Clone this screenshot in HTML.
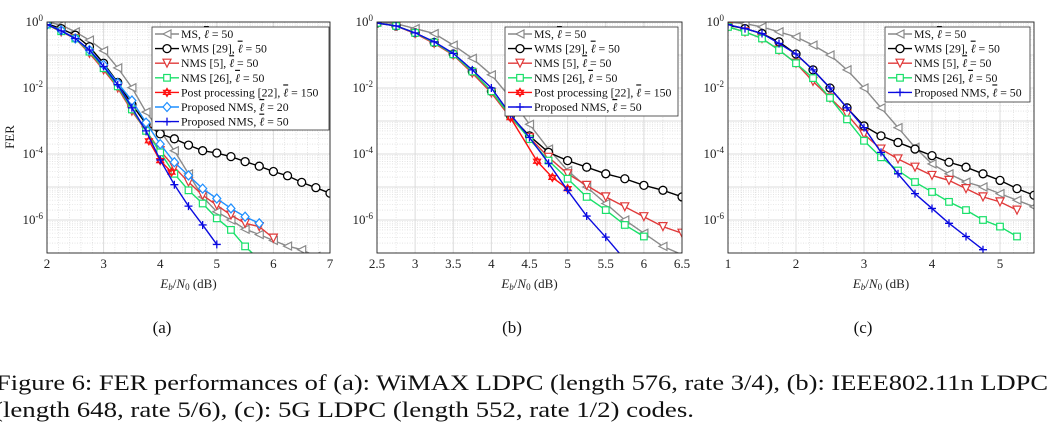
<!DOCTYPE html>
<html><head><meta charset="utf-8"><style>
html,body{margin:0;padding:0;background:#fff;}
svg{display:block;font-family:"Liberation Serif",serif;}
</style></head><body>
<svg id="fig" width="1056" height="435" viewBox="0 0 1056 435" xmlns="http://www.w3.org/2000/svg"></svg>
<script>
// ---- data (log10 FER) ----
const xA = [2,2.25,2.5,2.75,3,3.25,3.5,3.75,4,4.25,4.5,4.75,5,5.25,5.5,5.75,6,6.25,6.5,6.75,7];
const aMS   = [0,-0.09,-0.3,-0.55,-0.87,-1.39,-1.99,-2.73,-3.3,-3.9,-4.6,-5.3,-5.75,-6.0,-6.28,-6.44,-6.62,-6.79,-6.9,-7.1];
const aWMS  = [-0.05,-0.2,-0.4,-0.75,-1.25,-1.83,-2.5,-3.09,-3.39,-3.54,-3.73,-3.9,-3.97,-4.08,-4.23,-4.37,-4.53,-4.66,-4.86,-5.02,-5.19];
const aNMS5 = [-0.08,-0.3,-0.5,-0.95,-1.45,-2.0,-2.7,-3.3,-3.9,-4.4,-4.85,-5.25,-5.55,-5.85,-6.1,-6.2,-6.55];
const aNMS26= [-0.08,-0.28,-0.5,-0.9,-1.4,-1.95,-2.65,-3.3,-3.95,-4.6,-5.1,-5.5,-5.95,-6.3,-6.8,-7.2];
const aPPx  = [3.8,4.0,4.2];
const aPP   = [-3.6,-4.2,-4.55];
const aP20  = [-0.08,-0.25,-0.5,-0.85,-1.3,-1.85,-2.38,-3.05,-3.7,-4.25,-4.65,-5.05,-5.35,-5.65,-5.9,-6.1];
const aP50  = [-0.08,-0.27,-0.5,-0.85,-1.35,-1.9,-2.6,-3.3,-4.18,-4.93,-5.58,-6.15,-6.74];

const xB = [2.5,2.75,3,3.25,3.5,3.75,4,4.25,4.5,4.75,5,5.25,5.5,5.75,6,6.25,6.5];
const bMS   = [0,-0.05,-0.2,-0.35,-0.7,-1.1,-1.6,-2.3,-3.1,-3.85,-4.5,-5.0,-5.5,-6.0,-6.4,-6.8,-7.05];
const bWMS  = [-0.03,-0.12,-0.33,-0.62,-0.97,-1.5,-2.1,-2.85,-3.45,-3.95,-4.2,-4.4,-4.6,-4.75,-4.95,-5.1,-5.3];
const bNMS5 = [-0.03,-0.12,-0.35,-0.65,-1.0,-1.55,-2.15,-2.9,-3.5,-4.1,-4.6,-4.95,-5.3,-5.6,-5.9,-6.2,-6.4];
const bNMS26= [-0.03,-0.12,-0.33,-0.62,-0.98,-1.5,-2.1,-2.85,-3.55,-4.2,-4.75,-5.3,-5.7,-6.15,-6.5];
const bPPx  = [4.25,4.6,4.8,5.0];
const bPP   = [-2.9,-4.22,-4.71,-5.05];
const bP50  = [-0.03,-0.12,-0.33,-0.6,-0.95,-1.45,-2.0,-2.8,-3.5,-4.28,-5.1,-5.88,-6.52,-7.2];

const xC = [1,1.25,1.5,1.75,2,2.25,2.5,2.75,3,3.25,3.5,3.75,4,4.25,4.5,4.75,5,5.25,5.5];
const cMS   = [0,-0.05,-0.15,-0.3,-0.45,-0.7,-1.0,-1.45,-2.0,-2.6,-3.2,-3.8,-4.3,-4.6,-4.85,-5.0,-5.2,-5.4,-5.6];
const cWMS  = [-0.1,-0.2,-0.35,-0.6,-0.97,-1.45,-2.0,-2.6,-3.15,-3.45,-3.65,-3.85,-4.05,-4.25,-4.4,-4.6,-4.8,-5.05,-5.25];
const cNMS5 = [-0.15,-0.3,-0.5,-0.85,-1.25,-1.8,-2.3,-2.8,-3.4,-3.85,-4.15,-4.4,-4.65,-4.8,-5.05,-5.3,-5.45,-5.7];
const cNMS26= [-0.15,-0.3,-0.5,-0.85,-1.25,-1.7,-2.3,-2.95,-3.6,-4.1,-4.5,-4.85,-5.15,-5.45,-5.7,-6.0,-6.2,-6.5];
const cP50  = [-0.08,-0.2,-0.35,-0.65,-0.97,-1.45,-2.0,-2.6,-3.2,-3.95,-4.6,-5.2,-5.65,-6.1,-6.5,-6.9];

const xTicksA = [2,3,4,5,6,7];
const xTicksB = [2.5,3,3.5,4,4.5,5,5.5,6,6.5];
const xTicksC = [1,2,3,4,5];
const yTickExp = [0,-2,-4,-6];

const NS="http://www.w3.org/2000/svg";
const svg=document.getElementById('fig');
function mk(tag,attrs,parent){const e=document.createElementNS(NS,tag);for(const k in attrs)e.setAttribute(k,attrs[k]);(parent||svg).appendChild(e);return e;}

const ST={
 MS:{c:'#8a8a8a',m:'tl'}, WMS:{c:'#000',m:'o'}, NMS5:{c:'#e03a3a',m:'td'},
 NMS26:{c:'#19e06a',m:'sq'}, PP:{c:'#ff1010',m:'hx'}, P20:{c:'#1f8fff',m:'di'}, P50:{c:'#0a0ae0',m:'pl'}
};
function marker(g,t,x,y,c){
 const r=4;
 if(t==='o') mk('circle',{cx:x,cy:y,r:r,fill:'#fff',stroke:c,'stroke-width':1.3},g);
 else if(t==='tl') mk('polygon',{points:`${x-r},${y} ${x+r},${y-r} ${x+r},${y+r}`,fill:'#fff',stroke:c,'stroke-width':1.2},g);
 else if(t==='td') mk('polygon',{points:`${x-r},${y-r} ${x+r},${y-r} ${x},${y+r}`,fill:'#fff',stroke:c,'stroke-width':1.2},g);
 else if(t==='sq') mk('rect',{x:x-3.3,y:y-3.3,width:6.6,height:6.6,fill:'#fff',stroke:c,'stroke-width':1.2},g);
 else if(t==='di') mk('polygon',{points:`${x},${y-r-0.5} ${x+r},${y} ${x},${y+r+0.5} ${x-r},${y}`,fill:'#fff',stroke:c,'stroke-width':1.2},g);
 else if(t==='hx'){mk('polygon',{points:`${x},${y-r} ${x+3.5},${y+2} ${x-3.5},${y+2}`,fill:'none',stroke:c,'stroke-width':1.2},g);
   mk('polygon',{points:`${x},${y+r} ${x+3.5},${y-2} ${x-3.5},${y-2}`,fill:'none',stroke:c,'stroke-width':1.2},g);}
 else if(t==='pl'){mk('path',{d:`M${x-r} ${y}H${x+r}M${x} ${y-r}V${y+r}`,stroke:c,'stroke-width':1.3,fill:'none'},g);}
}

const Y0=22, DEC=33, YB=253;
function panel(id,x0,x1,xmin,xmax,xticks,series,leg,showFER){
 const g=mk('g',{});
 
 
 const sx=v=>x0+(v-xmin)/(xmax-xmin)*(x1-x0);
 const sy=l=>Y0-l*DEC;
 const grid=mk('g',{},g);
 
 
 for(let d=0;d>-7;d--){for(let k=2;k<10;k++){const y=sy(d-1+Math.log10(k));
   mk('line',{x1:x0,x2:x1,y1:y,y2:y,stroke:'#d4d4d4','stroke-width':0.6,'stroke-dasharray':'1,1.5'},grid);}}
 for(let d=0;d>=-7;d--){const y=sy(d);mk('line',{x1:x0,x2:x1,y1:y,y2:y,stroke:'#dcdcdc','stroke-width':1},grid);}
 const step=xticks[1]-xticks[0];
 for(let v=xmin;v<=xmax+1e-9;v+=step/(step===1?5:2)){mk('line',{x1:sx(v),x2:sx(v),y1:Y0,y2:YB,stroke:'#d4d4d4','stroke-width':0.6,'stroke-dasharray':'1,1.5'},grid);}
 xticks.forEach(v=>mk('line',{x1:sx(v),x2:sx(v),y1:Y0,y2:YB,stroke:'#dcdcdc','stroke-width':1},grid));
 mk('clipPath',{id:'clip'+id},g).appendChild(document.createElementNS(NS,'rect'));
 const cr=g.querySelector('#clip'+id+' rect');cr.setAttribute('x',x0);cr.setAttribute('y',Y0);cr.setAttribute('width',x1-x0);cr.setAttribute('height',YB-Y0);
 const sg=mk('g',{'clip-path':`url(#clip${id})`},g);
 series.forEach(s=>{
   const st=ST[s.k];
   const sgg=mk('g',{},sg);
   
   
   const pts=s.y.map((l,i)=>[sx(s.x[i]),sy(l)]);
   mk('polyline',{points:pts.map(p=>p.join(',')).join(' '),fill:'none',stroke:st.c,'stroke-width':1.4},sgg);
   pts.forEach(p=>marker(sgg,st.m,p[0],p[1],st.c));
 });
 mk('rect',{x:x0,y:Y0,width:x1-x0,height:YB-Y0,fill:'none',stroke:'#222','stroke-width':0.9},g);
 xticks.forEach(v=>{const t=mk('text',{x:sx(v),y:YB+15,'text-anchor':'middle','font-size':13,fill:'#222'},g);t.textContent=String(v);
   });
 yTickExp.forEach(e=>{const t=mk('text',{x:x0-4,y:sy(e)+4,'text-anchor':'end','font-size':13,fill:'#222'},g);
   
   t.appendChild(document.createTextNode('10'));
   const ts=mk('tspan',{dy:-5,'font-size':9},t);ts.textContent=String(e);});
 const xl=mk('text',{x:(x0+x1)/2,y:288,'text-anchor':'middle','font-size':13,fill:'#222'},g);
 
 xl.innerHTML='<tspan font-style="italic">E</tspan><tspan font-size="9" dy="2" font-style="italic">b</tspan><tspan dy="-2">/</tspan><tspan font-style="italic">N</tspan><tspan font-size="9" dy="2">0</tspan><tspan dy="-2"> (dB)</tspan>';
 if(showFER){const f=mk('text',{x:0,y:0,transform:'translate(14,137) rotate(-90)','text-anchor':'middle','font-size':13,fill:'#222'},g);f.textContent='FER';
   }
 const lg=mk('g',{},g);
 
 
 mk('rect',{x:leg.x,y:leg.y,width:leg.w,height:leg.h,fill:'#fff',stroke:'#333','stroke-width':0.8},lg);
 leg.items.forEach((it,i)=>{
   const st=ST[it.k];const cy=leg.y+7+i*14.6;const e=mk('g',{},lg);
   
   mk('line',{x1:leg.x+3,x2:leg.x+27,y1:cy,y2:cy,stroke:st.c,'stroke-width':1.4},e);
   marker(e,st.m,leg.x+15,cy,st.c);
   const t=mk('text',{x:leg.x+29,y:cy+4,'font-size':11.8,fill:'#111'},e);
   t.innerHTML=it.t+', <tspan font-style="italic" text-decoration="overline">ℓ</tspan> = '+it.l;
 });
}

const LA=[{k:'MS',t:'MS',l:50},{k:'WMS',t:'WMS [29]',l:50},{k:'NMS5',t:'NMS [5]',l:50},{k:'NMS26',t:'NMS [26]',l:50},{k:'PP',t:'Post processing [22]',l:150},{k:'P20',t:'Proposed NMS',l:20},{k:'P50',t:'Proposed NMS',l:50}];
panel('a',47,330,2,7,xTicksA,[
 {k:'MS',x:xA,y:aMS},{k:'WMS',x:xA,y:aWMS},{k:'NMS5',x:xA,y:aNMS5},{k:'NMS26',x:xA,y:aNMS26},
 {k:'P20',x:xA,y:aP20},{k:'PP',x:aPPx,y:aPP},{k:'P50',x:xA,y:aP50}],
 {x:152,y:27,w:177,h:103,items:LA},true);
panel('b',377,682,2.5,6.5,xTicksB,[
 {k:'MS',x:xB,y:bMS},{k:'WMS',x:xB,y:bWMS},{k:'NMS5',x:xB,y:bNMS5},{k:'NMS26',x:xB,y:bNMS26},
 {k:'PP',x:bPPx,y:bPP},{k:'P50',x:xB,y:bP50}],
 {x:505,y:27,w:173,h:89,items:LA.filter(d=>d.k!=='P20')},false);
panel('c',728,1034,1,5.5,xTicksC,[
 {k:'MS',x:xC,y:cMS},{k:'WMS',x:xC,y:cWMS},{k:'NMS5',x:xC,y:cNMS5},{k:'NMS26',x:xC,y:cNMS26},{k:'P50',x:xC,y:cP50}],
 {x:885,y:27,w:145,h:75,items:LA.filter(d=>d.k!=='P20'&&d.k!=='PP')},false);

[['(a)',162],['(b)',512],['(c)',863]].forEach(([s,x])=>{const t=mk('text',{x:x,y:333,'text-anchor':'middle','font-size':17,fill:'#111'});t.textContent=s;
 });
const c1=mk('text',{x:-4,y:390,'font-size':22,fill:'#111',textLength:1052,lengthAdjust:'spacingAndGlyphs'});

c1.textContent='Figure 6: FER performances of (a): WiMAX LDPC (length 576, rate 3/4), (b): IEEE802.11n LDPC';
const c2=mk('text',{x:-6,y:417,'font-size':22,fill:'#111',textLength:700,lengthAdjust:'spacingAndGlyphs'});

c2.textContent='(length 648, rate 5/6), (c): 5G LDPC (length 552, rate 1/2) codes.';
</script>
</body></html>
